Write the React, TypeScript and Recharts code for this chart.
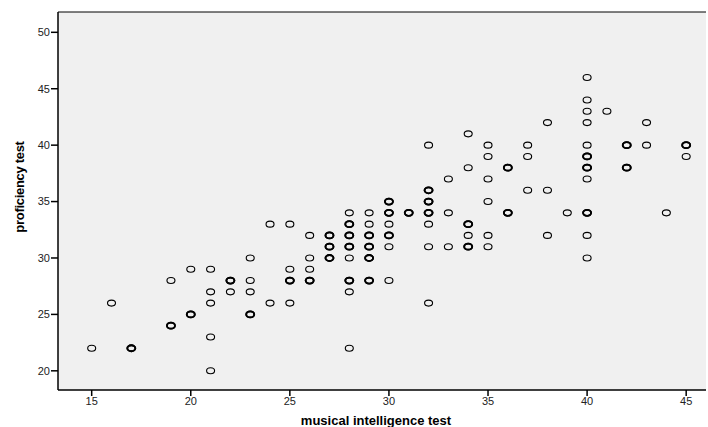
import React from 'react';
import { ScatterChart, Scatter, XAxis, YAxis, CartesianGrid, ReferenceLine, Label } from 'recharts';

// musical intelligence test (x) paired with proficiency test (y); repeated pairs are ties
const musicalScores = [
  15, 16, 17, 17,
  19, 19, 19, 20, 20, 20,
  21, 21, 21, 21, 21, 22, 22, 22,
  23, 23, 23, 23, 23, 24, 24,
  25, 25, 25, 25, 25, 26, 26, 26, 26, 26,
  27, 27, 27, 27, 27, 27,
  28, 28, 28, 28, 28, 28, 28, 28, 28, 28, 28, 28,
  29, 29, 29, 29, 29, 29, 29, 29, 29, 29,
  30, 30, 30, 30, 30, 30, 30, 30, 30, 31, 31,
  32, 32, 32, 32, 32, 32, 32, 32, 32, 32, 33, 33, 33,
  34, 34, 34, 34, 34, 34, 34, 35, 35, 35, 35, 35, 35,
  36, 36, 36, 36, 37, 37, 37, 38, 38, 38, 39,
  40, 40, 40, 40, 40, 40, 40, 40, 40, 40, 40, 40, 40, 40,
  41, 42, 42, 42, 42, 43, 43, 44, 45, 45, 45,
];

const proficiencyScores = [
  22, 26, 22, 22,
  28, 24, 24, 29, 25, 25,
  29, 27, 26, 23, 20, 28, 28, 27,
  30, 28, 27, 25, 25, 33, 26,
  33, 29, 28, 28, 26, 32, 30, 29, 28, 28,
  32, 32, 31, 31, 30, 30,
  34, 33, 33, 32, 32, 31, 31, 30, 28, 28, 27, 22,
  34, 33, 32, 32, 31, 31, 30, 30, 28, 28,
  35, 35, 34, 34, 33, 32, 32, 31, 28, 34, 34,
  40, 36, 36, 35, 35, 34, 34, 33, 31, 26, 37, 34, 31,
  41, 38, 33, 33, 32, 31, 31, 40, 39, 37, 35, 32, 31,
  38, 38, 34, 34, 40, 39, 36, 42, 36, 32, 34,
  46, 44, 43, 42, 40, 39, 39, 38, 38, 37, 34, 34, 32, 30,
  43, 40, 40, 38, 38, 42, 40, 34, 40, 40, 39,
];

const xTicks = [15, 20, 25, 30, 35, 40, 45];
const yTicks = [20, 25, 30, 35, 40, 45, 50];

// count ties so overlapping cases can be drawn heavier, like SPSS does
const tieCount: Record<string, number> = {};
musicalScores.forEach((m, i) => {
  const k = `${m}-${proficiencyScores[i]}`;
  tieCount[k] = (tieCount[k] || 0) + 1;
});
const points = musicalScores.map((m, i) => ({
  musical: m,
  proficiency: proficiencyScores[i],
  ties: tieCount[`${m}-${proficiencyScores[i]}`],
}));

const FONT = '"Liberation Sans", Arial, sans-serif';

const OpenMarker = (props: any) => {
  const ties = props.payload?.ties ?? 1;
  return (
    <ellipse cx={props.cx} cy={props.cy} rx={4} ry={3} fill="none" stroke="#000"
      strokeWidth={ties > 1 ? 1.8 : 1.1} />
  );
};

export default function App() {
  return (
    <div style={{ position: 'absolute', left: 0, top: 0, background: '#fff' }}>
      <ScatterChart width={708} height={427} margin={{ top: 12, right: 2, bottom: 0, left: 0 }}>
        <CartesianGrid fill="#f0f0f0" horizontal={false} vertical={false} />
        <XAxis
          type="number"
          dataKey="musical"
          domain={[13.3, 46]}
          ticks={xTicks}
          height={37}
          allowDataOverflow
          stroke="#000"
          strokeWidth={1.5}
          tickSize={6}
          tickMargin={1}
          tick={{ fill: '#222', fontSize: 11, fontFamily: FONT }}
        >
          <Label
            content={(p: any) => {
              const vb = p.viewBox;
              return (
                <text x={vb.x + vb.width / 2 - 6} y={vb.y + vb.height - 2} textAnchor="middle"
                  fontFamily={FONT} fontSize={13} fontWeight="bold" fill="#000">
                  musical intelligence test
                </text>
              );
            }}
          />
        </XAxis>
        <YAxis
          type="number"
          dataKey="proficiency"
          domain={[18.3, 51.8]}
          ticks={yTicks}
          width={58}
          allowDataOverflow
          stroke="#000"
          strokeWidth={1.5}
          tickSize={7}
          tickMargin={1}
          tick={{ fill: '#222', fontSize: 11, fontFamily: FONT }}
        >
          <Label
            content={(p: any) => {
              const vb = p.viewBox;
              const cy = vb.y + vb.height / 2 - 14;
              return (
                <text x={24} y={cy} textAnchor="middle" transform={`rotate(-90, 24, ${cy})`}
                  fontFamily={FONT} fontSize={13} fontWeight="bold" fill="#000" letterSpacing={-0.3}>
                  proficiency test
                </text>
              );
            }}
          />
        </YAxis>
        <ReferenceLine y={51.8} stroke="#000" strokeWidth={1} ifOverflow="visible" />
        <Scatter data={points} shape={OpenMarker} isAnimationActive={false} />
      </ScatterChart>
    </div>
  );
}
